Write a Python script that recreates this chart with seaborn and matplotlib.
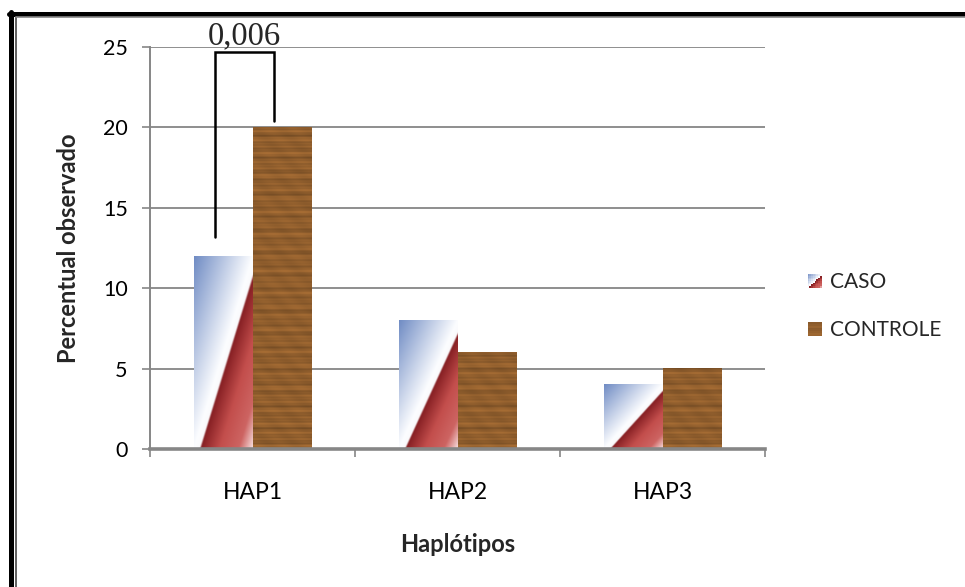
import numpy as np
import pandas as pd
import matplotlib
matplotlib.use("Agg")
import matplotlib.pyplot as plt
import seaborn as sns
from matplotlib.patches import Rectangle
from matplotlib.lines import Line2D
from matplotlib.legend_handler import HandlerBase

# ---------------- data ----------------
categories = ["HAP1", "HAP2", "HAP3"]
caso = [12, 8, 4]
controle = [20, 6, 5]
groups = ["CASO", "CONTROLE"]
y_ticks = [0, 5, 10, 15, 20, 25]
p_value_text = "0,006"
x_title = "Haplótipos"
y_title = "Percentual observado"

df = pd.DataFrame({
    "Haplótipo": categories * 2,
    "valor": caso + controle,
    "grupo": [groups[0]] * 3 + [groups[1]] * 3,
})

# ---------------- style ----------------
sns.set_style("white")
plt.rcParams["font.family"] = ["Lato", "DejaVu Sans"]
GRAY = "#868686"

W, H = 965, 587
fig = plt.figure(figsize=(W / 100, H / 100), dpi=100)
ax = fig.add_axes([150 / W, 1 - 449 / H, (765 - 150) / W, (449 - 47) / H])

sns.barplot(data=df, x="Haplótipo", y="valor", hue="grupo", order=categories,
            hue_order=groups, palette=["#c0504d", "#8f5d2c"], width=0.57,
            gap=0, legend=False, ax=ax, saturation=1, errorbar=None)

# ---------------- fills ----------------
def caso_grad(s):
    stops = [0.0, 0.50, 0.545, 0.56, 0.72, 0.88, 1.0]
    cols = np.array([[112, 140, 196], [252, 253, 255], [250, 250, 252],
                     [135, 32, 36], [195, 78, 76], [205, 100, 98],
                     [246, 222, 222]]) / 255.0
    out = np.zeros(np.shape(s) + (3,))
    for c in range(3):
        out[..., c] = np.interp(s, stops, cols[:, c])
    return out

def caso_image(n=120, m=120):
    u = np.linspace(0, 1, m)[None, :]
    v = np.linspace(0, 1, n)[:, None]
    s = (u + (1 - v)) / 2.0
    return caso_grad(s)  # origin lower -> row 0 is v=0

def wood_image(nrows, ncols=30):
    y = np.arange(nrows)[:, None].astype(float)
    x = np.arange(ncols)[None, :].astype(float)
    base = np.array([144, 94, 45]) / 255.0
    f = (0.07 * np.sin(2 * np.pi * y / 7.3)
         + 0.05 * np.sin(2 * np.pi * y / 3.1 + 1.3)
         + 0.05 * np.sin(2 * np.pi * y / 11.7 + 0.4)
         + 0.03 * np.sin(2 * np.pi * x / 13.0 + y / 4.0))
    f = np.clip(f, -0.2, 0.2)
    img = base[None, None, :] * (1 + f[..., None])
    return np.clip(img, 0, 1)

px_per_unit = (449 - 47) / 25.0
for patch in ax.containers[0]:
    x0, y0 = patch.get_x(), patch.get_y()
    w, h = patch.get_width(), patch.get_height()
    patch.set_facecolor("none")
    patch.set_edgecolor("none")
    ax.imshow(caso_image(), extent=[x0, x0 + w, y0, y0 + h], origin="lower",
              aspect="auto", zorder=2, interpolation="bilinear")
for patch in ax.containers[1]:
    x0, y0 = patch.get_x(), patch.get_y()
    w, h = patch.get_width(), patch.get_height()
    patch.set_facecolor("none")
    patch.set_edgecolor("none")
    nrows = max(int(h * px_per_unit), 2)
    ax.imshow(wood_image(nrows), extent=[x0, x0 + w, y0, y0 + h], origin="lower",
              aspect="auto", zorder=2, interpolation="bilinear")

# ---------------- axes ----------------
ax.set_xlim(-0.5, 2.5)
ax.set_ylim(0, 25)
ax.set_yticks(y_ticks)
ax.yaxis.grid(True, color=GRAY, linewidth=1.3)
ax.set_axisbelow(True)
for side in ["top", "right"]:
    ax.spines[side].set_visible(False)
ax.spines["left"].set_color(GRAY)
ax.spines["left"].set_linewidth(1.4)
ax.spines["bottom"].set_color(GRAY)
ax.spines["bottom"].set_linewidth(2.6)
ax.spines["bottom"].set_zorder(3)

ax.tick_params(axis="y", which="major", length=5.5, width=1.2, color=GRAY,
               pad=10.5, labelsize=15.5, labelcolor="black", left=True)
ax.tick_params(axis="x", which="major", length=0, pad=24, labelsize=16.5,
               labelcolor="black")
ax.set_xticks([-0.5, 0.5, 1.5, 2.5], minor=True)
ax.tick_params(axis="x", which="minor", length=5.5, width=1.2, color=GRAY,
               bottom=True)

ax.set_xlabel(x_title, fontsize=17, fontweight="bold")
ax.set_ylabel(y_title, fontsize=17, fontweight="bold")
ax.xaxis.set_label_coords(0.5, -(545 - 449) / 402)
ax.xaxis.label.set_verticalalignment("center")
ax.yaxis.set_label_coords((68 - 150) / 615, 0.5)
ax.yaxis.label.set_verticalalignment("center")

# ---------------- significance bracket ----------------
pc = ax.containers[0][0]
pk = ax.containers[1][0]
xl = pc.get_x() + 0.36 * pc.get_width()
xr = pk.get_x() + 0.36 * pk.get_width()
y_top = 24.7
ax.plot([xl, xl, xr, xr], [pc.get_height() + 1.2, y_top, y_top, pk.get_height() + 0.4],
        color="black", linewidth=1.8, zorder=5, clip_on=False, solid_joinstyle="miter")
ax.text((xl + xr) / 2, 25.2, p_value_text, ha="center", va="baseline",
        fontsize=23.5, family=["Liberation Serif", "DejaVu Serif"], clip_on=False)

# ---------------- legend ----------------
class GradHandler(HandlerBase):
    def __init__(self, kind):
        super().__init__()
        self.kind = kind

    def legend_artist(self, legend, orig_handle, fontsize, handlebox):
        side = min(handlebox.width, handlebox.height)
        x0 = handlebox.xdescent + (handlebox.width - side) / 2
        y0 = handlebox.ydescent + (handlebox.height - side) / 2
        n = 8
        d = side / n
        last = None
        for i in range(n):
            for j in range(n):
                u = (j + 0.5) / n
                v = (i + 0.5) / n
                if self.kind == "caso":
                    c = caso_grad(np.array((u + 1 - v) / 2.0))
                else:
                    c = wood_image(n * 2)[i * 2, 0]
                r = Rectangle((x0 + j * d, y0 + i * d), d * 1.02, d * 1.02,
                              facecolor=c, edgecolor="none",
                              transform=handlebox.get_transform())
                handlebox.add_artist(r)
                last = r
        return last

h1 = Rectangle((0, 0), 1, 1)
h2 = Rectangle((0, 0), 1, 1)
leg = fig.legend([h1, h2], groups, loc="upper left",
                 bbox_to_anchor=(789 / W, 1 - 253 / H), frameon=False,
                 fontsize=15, handlelength=0.66, handleheight=0.66,
                 handletextpad=0.4, labelspacing=1.36,
                 handler_map={h1: GradHandler("caso"), h2: GradHandler("wood")})

# ---------------- outer frame ----------------
fig.add_artist(Line2D([10.5 / W, 10.5 / W], [0, 1 - 12 / H], color="black",
                      linewidth=3.6, transform=fig.transFigure))
fig.add_artist(Line2D([8.5 / W, 1], [1 - 14 / H, 1 - 14 / H], color="black",
                      linewidth=3.6, transform=fig.transFigure))
fig.add_artist(Line2D([16 / W, 16 / W], [0, 1 - 16.5 / H], color="#444444",
                      linewidth=1.2, transform=fig.transFigure))
fig.add_artist(Line2D([15.5 / W, 1], [1 - 16.8 / H, 1 - 16.8 / H], color=GRAY,
                      linewidth=1.2, transform=fig.transFigure))

fig.savefig("out.png", dpi=100)
